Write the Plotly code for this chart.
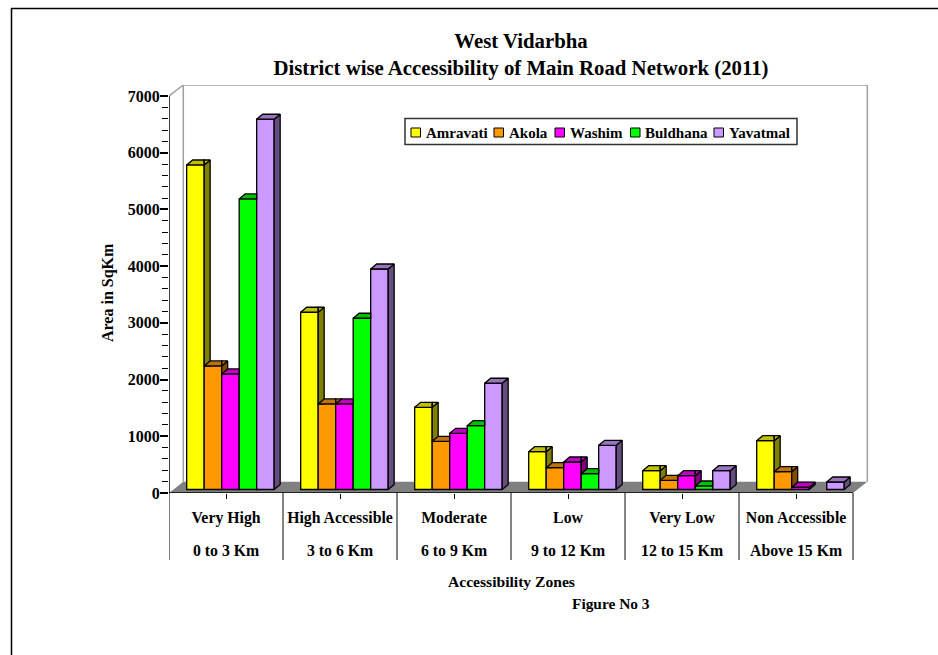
import plotly.graph_objects as go

# ---------- data ----------
zones = ["Very High", "High Accessible", "Moderate", "Low", "Very Low", "Non Accessible"]
ranges = ["0 to 3 Km", "3 to 6 Km", "6 to 9 Km", "9 to 12 Km", "12 to 15 Km", "Above 15 Km"]
amravati = [5722, 3125, 1449, 667, 332, 861]
akola = [2178, 1508, 850, 385, 162, 314]
washim = [2037, 1508, 991, 485, 243, 40]
buldhana = [5123, 3019, 1125, 279, 62, 0]
yavatmal = [6528, 3888, 1873, 779, 332, 132]

names = ["Amravati", "Akola", "Washim", "Buldhana", "Yavatmal"]
all_values = [amravati, akola, washim, buldhana, yavatmal]
front_col = ["#FFFF00", "#FF9900", "#FF00FF", "#00FF00", "#CC99FF"]
top_col = ["#C0C000", "#C07400", "#C000C0", "#00C000", "#9973BF"]
side_col = ["#808000", "#804D00", "#800080", "#008000", "#664D80"]
legend_sw = [411, 494, 555, 630.5, 714]
legend_tx = [423.5, 507, 568, 643, 727]

# ---------- geometry (data units) ----------
FONT = "Liberation Serif"
L, R, T, B = 169, 869, 85, 493       # plot area in page pixels
YMAX = 7194
XMAX = 5.64
BW = 0.1535        # bar width
G0 = 0.155         # group start inside a category
BASE = 62          # bar floor offset
DX, DY = 0.0526, 88  # bar depth
WX, WY = 0.1254, 199 # wall depth


def px(x):
    return (x - L) / (R - L)


def py(y):
    return (B - y) / (B - T)


def clip(poly, axis, lim, keep_low):
    """Clip a convex polygon against one half-plane."""
    out = []
    n = len(poly)
    inside = lambda p: p[axis] <= lim if keep_low else p[axis] >= lim
    for i in range(n):
        a, b = poly[i], poly[(i + 1) % n]
        if inside(a):
            out.append(a)
        if inside(a) != inside(b):
            t = (lim - a[axis]) / (b[axis] - a[axis])
            out.append((a[0] + t * (b[0] - a[0]), a[1] + t * (b[1] - a[1])))
    return out


def add_poly(xs, ys, poly):
    if len(poly) < 3:
        return
    for p in poly + [poly[0]]:
        xs.append(p[0])
        ys.append(p[1])
    xs.append(None)
    ys.append(None)


fig = go.Figure()
for s, vals in enumerate(all_values):
    xc = [c - 0.5 + G0 + (s + 0.5) * BW for c in range(len(zones))]
    fig.add_trace(go.Bar(x=xc, y=[v if v > 0 else None for v in vals], base=[BASE] * len(vals), width=BW,
                         name=names[s], marker=dict(color=front_col[s], line=dict(color="black", width=1.3))))

for s, vals in enumerate(all_values):
    nxt = all_values[s + 1] if s + 1 < len(all_values) else None
    tx, ty, sx, sy = [], [], [], []
    for c, v in enumerate(vals):
        if v <= 0:
            continue
        x0 = c - 0.5 + G0 + s * BW
        x1 = x0 + BW
        t = BASE + v
        top = [(x0, t), (x1, t), (x1 + DX, t + DY), (x0 + DX, t + DY)]
        side = [(x1, BASE), (x1 + DX, BASE + DY), (x1 + DX, t + DY), (x1, t)]
        if nxt is not None and nxt[c] > 0:
            nt = BASE + nxt[c]
            add_poly(tx, ty, clip(top, 0, x1, True))
            add_poly(tx, ty, clip(clip(top, 0, x1, False), 1, nt, False))
            add_poly(sx, sy, clip(side, 1, nt, False))
        else:
            add_poly(tx, ty, top)
            add_poly(sx, sy, side)
    for xs, ys, col in ((sx, sy, side_col[s]), (tx, ty, top_col[s])):
        fig.add_trace(go.Scatter(x=xs, y=ys, mode="lines", fill="toself", fillcolor=col,
                                 line=dict(color="black", width=1.3), hoverinfo="skip",
                                 cliponaxis=False, name=names[s]))

shapes = [
    # floor
    dict(type="path", xref="x", yref="y", layer="below", fillcolor="#808080", line=dict(width=0),
         path=f"M -0.5 0 L 5.5 0 L {5.5 + WX} {WY} L {-0.5 + WX} {WY} Z"),
    # walls
    dict(type="path", xref="x", yref="y", layer="below", line=dict(color="#A0A0A0", width=1.5),
         path=f"M -0.5 7000 L {-0.5 + WX} {YMAX} L {-0.5 + WX} {WY} M {-0.5 + WX} {YMAX} "
              f"L {5.5 + WX} {YMAX} L {5.5 + WX} {WY}"),
    # axes
    dict(type="line", xref="x", yref="y", x0=-0.5, x1=-0.5, y0=0, y1=7000, line=dict(color="black", width=1.5)),
    dict(type="line", xref="x", yref="y", x0=-0.5, x1=5.5, y0=0, y1=0, line=dict(color="black", width=1.5)),
    # outer frame
    dict(type="line", xref="paper", yref="paper", x0=px(11), x1=px(938), y0=py(8.5), y1=py(8.5),
         line=dict(color="black", width=1.5)),
    dict(type="line", xref="paper", yref="paper", x0=px(11.5), x1=px(11.5), y0=py(8), y1=py(655),
         line=dict(color="black", width=1.5)),
    # legend box
    dict(type="rect", xref="paper", yref="paper", x0=px(405), x1=px(797), y0=py(118.5), y1=py(144.5),
         fillcolor="white", line=dict(color="#333333", width=1.5)),
]
# separators of the two-row category axis
for c in range(len(zones) + 1):
    shapes.append(dict(type="line", xref="x", yref="paper", x0=c - 0.5, x1=c - 0.5, y0=0, y1=py(560),
                       line=dict(color="#333333", width=1.2)))

anns = []
for n, tx in zip(names, legend_tx):
    anns.append(dict(text=f"<b>{n}</b>", xref="paper", yref="paper", x=px(tx), y=py(132.5), xanchor="left",
                     yanchor="middle", showarrow=False, font=dict(family=FONT, size=15, color="black")))
for sw, col in zip(legend_sw, front_col):
    shapes.append(dict(type="rect", xref="paper", yref="paper", x0=px(sw), x1=px(sw + 9.5), y0=py(128),
                       y1=py(137), fillcolor=col, line=dict(color="black", width=1)))
# second row of the category axis
for c, r in enumerate(ranges):
    anns.append(dict(text=f"<b>{r}</b>", xref="x", yref="paper", x=c, y=py(550), xanchor="center",
                     yanchor="middle", showarrow=False, font=dict(family=FONT, size=15.8, color="black")))
anns.append(dict(text="<b>Area in SqKm</b>", xref="paper", yref="paper", x=px(108), y=py(293), textangle=-90,
                 xanchor="center", yanchor="middle", showarrow=False,
                 font=dict(family=FONT, size=16, color="black")))
anns.append(dict(text="<b>Accessibility Zones</b>", xref="paper", yref="paper", x=px(511), y=py(581),
                 xanchor="center", yanchor="middle", showarrow=False,
                 font=dict(family=FONT, size=15.6, color="black")))
anns.append(dict(text="<b>Figure No 3</b>", xref="paper", yref="paper", x=px(611), y=py(603),
                 xanchor="center", yanchor="middle", showarrow=False,
                 font=dict(family=FONT, size=15.4, color="black")))

fig.update_layout(
    width=938, height=655, autosize=False,
    margin=dict(l=L, r=938 - R, t=T, b=655 - B, pad=0),
    paper_bgcolor="white", plot_bgcolor="white",
    barmode="overlay", showlegend=False,
    font=dict(family=FONT, color="black"),
    title=dict(text="<b>West Vidarbha<br>District wise Accessibility of Main Road Network (2011)</b>",
               x=521 / 938, y=1 - 48 / 655, xanchor="center", yanchor="middle",
               font=dict(family=FONT, size=20.8, color="black")),
    xaxis=dict(range=[-0.5, XMAX], tickmode="array", tickvals=list(range(len(zones))),
               ticktext=[f"<b>{z}</b>" for z in zones], ticklabelstandoff=5,
               ticks="outside", ticklen=5, tickwidth=1.3, tickcolor="black", showgrid=False, zeroline=False,
               showline=False, tickangle=0, tickfont=dict(family=FONT, size=15.8, color="black")),
    yaxis=dict(range=[0, YMAX], tickmode="array", tickvals=[0, 1000, 2000, 3000, 4000, 5000, 6000, 7000],
               ticktext=[f"<b>{v}</b>" for v in [0, 1000, 2000, 3000, 4000, 5000, 6000, 7000]],
               ticks="outside", ticklen=8, tickwidth=1.5, tickcolor="black", showgrid=False, zeroline=False,
               showline=False, tickfont=dict(family=FONT, size=16, color="black"), ticklabelstandoff=-3,
               minor=dict(tickmode="linear", tick0=0, dtick=200, ticks="outside", ticklen=6, tickwidth=1.3,
                          tickcolor="black", showgrid=False)),
    shapes=shapes, annotations=anns,
)

fig.write_html("out.html", config=dict(displayModeBar=False),
               post_script="document.body.style.margin='0';")
